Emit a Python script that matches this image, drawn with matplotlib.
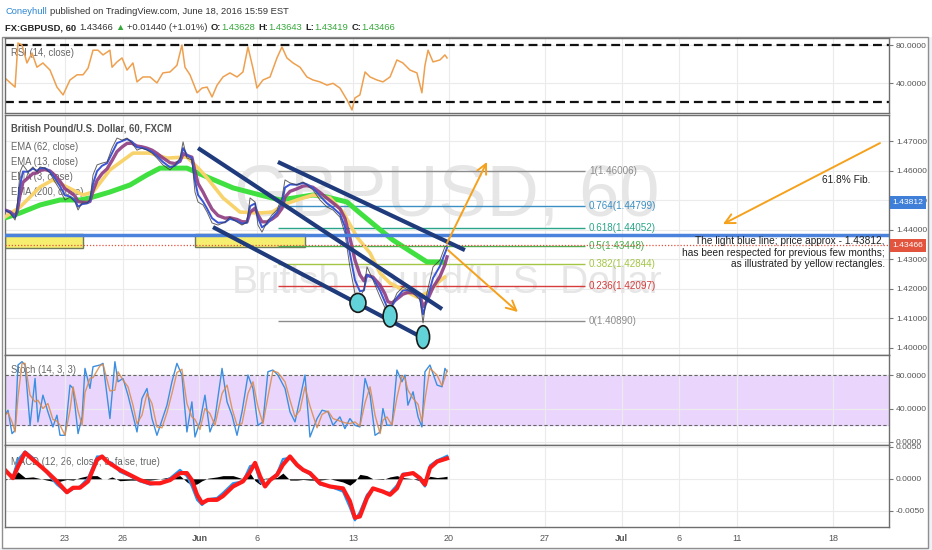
import matplotlib
matplotlib.use("Agg")
import matplotlib.pyplot as plt
import pandas as pd
from matplotlib import transforms
from matplotlib.font_manager import findfont, FontProperties
from matplotlib.patches import Rectangle, Ellipse

# ---- data (x in trading days, 0 = Mon 23 May 2016) ----
tick_days = [0, 3, 7, 10, 15, 20, 25, 29, 32, 35, 40]
tick_labels = ["23", "26", "Jun", "6", "13", "20", "27", "Jul", "6", "11", "18"]

price_days = [-3.13, -2.86, -2.60, -2.50, -2.34, -2.19, -1.93, -1.67, -1.46, -1.30,
              -1.04, -0.78, -0.52, -0.26, 0.00, 0.26, 0.52, 0.68, 0.89, 1.15,
              1.30, 1.46, 1.67, 1.93, 2.19, 2.45, 2.71, 2.97, 3.23, 3.49,
              3.75, 4.01, 4.27, 4.53, 4.79, 5.10, 5.47, 5.73, 5.99, 6.15,
              6.35, 6.61, 6.77, 6.93, 7.19, 7.40, 7.66, 7.97, 8.33, 8.59,
              8.96, 9.22, 9.48, 9.64, 9.90, 10.05, 10.26, 10.52, 10.78, 11.04,
              11.30, 11.46, 11.72, 12.08, 12.40, 12.60, 12.92, 13.28, 13.65, 13.96,
              14.32, 14.58, 14.84, 15.10, 15.36, 15.57, 15.73, 16.04, 16.41, 16.67,
              16.82, 17.03, 17.29, 17.60, 17.86, 18.13, 18.49, 18.65, 18.85, 19.17,
              19.53, 19.79, 19.90]
price_close = [1.4467, 1.4457, 1.4433, 1.4474, 1.4596, 1.4620, 1.4596, 1.4613, 1.4596, 1.4613,
               1.4609, 1.4592, 1.4562, 1.4535, 1.4501, 1.4511, 1.4494, 1.4467, 1.4491, 1.4491,
               1.4501, 1.4586, 1.4620, 1.4626, 1.4630, 1.4677, 1.4711, 1.4704, 1.4711, 1.4694,
               1.4670, 1.4677, 1.4670, 1.4660, 1.4643, 1.4620, 1.4603, 1.4620, 1.4643, 1.4698,
               1.4643, 1.4637, 1.4528, 1.4494, 1.4484, 1.4460, 1.4423, 1.4416, 1.4426, 1.4443,
               1.4426, 1.4416, 1.4426, 1.4508, 1.4494, 1.4416, 1.4392, 1.4426, 1.4450, 1.4467,
               1.4508, 1.4569, 1.4559, 1.4552, 1.4562, 1.4552, 1.4535, 1.4501, 1.4477, 1.4467,
               1.4443, 1.4389, 1.4274, 1.4185, 1.4172, 1.4196, 1.4274, 1.4230, 1.4172, 1.4135,
               1.4118, 1.4145, 1.4185, 1.4206, 1.4196, 1.4185, 1.4162, 1.4084, 1.4185, 1.4274,
               1.4297, 1.4342, 1.4348]

ema62_days = [-3.13, -2.34, -1.30, -0.63, 0.10, 0.94, 1.46, 2.34, 3.54, 4.43, 5.31, 6.35,
              7.03, 7.40, 8.23, 9.11, 10.16, 10.83, 11.35, 12.08, 12.92, 13.80, 14.48,
              15.21, 15.89, 16.41, 16.93, 17.60, 18.33, 18.85, 19.38, 19.79]
ema62 = [1.4443, 1.4477, 1.4545, 1.4569, 1.4545, 1.4518, 1.4528, 1.4603, 1.4660, 1.4660,
         1.4643, 1.4647, 1.4603, 1.4576, 1.4508, 1.4460, 1.4457, 1.4460, 1.4484, 1.4501,
         1.4518, 1.4508, 1.4460, 1.4375, 1.4321, 1.4253, 1.4219, 1.4196, 1.4172, 1.4185,
         1.4219, 1.4240]

ema200_days = [-3.13, -2.34, -1.30, -0.26, 0.78, 1.30, 2.34, 3.39, 4.27, 4.95, 6.35, 7.40,
               8.75, 10.16, 11.20, 12.24, 12.92, 13.65, 14.69, 15.36, 16.25, 17.08, 18.13,
               18.85, 19.69]
ema200 = [1.4440, 1.4457, 1.4484, 1.4501, 1.4501, 1.4508, 1.4528, 1.4552, 1.4586, 1.4609,
          1.4609, 1.4579, 1.4542, 1.4518, 1.4501, 1.4511, 1.4518, 1.4511, 1.4494, 1.4457,
          1.4409, 1.4365, 1.4321, 1.4291, 1.4291]

rsi_days = [-3.13, -2.60, -2.45, -2.24, -1.98, -1.72, -1.46, -1.15, -0.78, -0.42,
            -0.10, 0.26, 0.63, 0.94, 1.20, 1.46, 1.72, 1.98, 2.34, 2.45,
            2.71, 2.97, 3.23, 3.54, 3.75, 4.06, 4.43, 4.79, 5.10, 5.47,
            5.83, 6.09, 6.25, 6.51, 6.88, 7.14, 7.40, 7.66, 7.92, 8.23,
            8.59, 8.96, 9.27, 9.53, 9.79, 10.00, 10.31, 10.68, 11.04, 11.30,
            11.56, 11.88, 12.24, 12.60, 12.92, 13.28, 13.65, 13.96, 14.32, 14.69,
            14.95, 15.10, 15.36, 15.63, 15.89, 16.25, 16.56, 16.93, 17.29, 17.60,
            17.97, 18.33, 18.59, 18.75, 18.91, 19.17, 19.53, 19.79, 19.90]
rsi = [45.6, 36, 82.6, 80.5, 61.5, 72, 57, 61.5, 54, 36,
       27.7, 43.5, 49, 49, 56, 75, 75, 70, 75, 57,
       62.6, 66.8, 54, 61.5, 41.5, 46.7, 46.7, 40.4, 51, 52,
       59, 80.5, 57, 49, 30, 35, 36, 25.6, 38, 46.7,
       51, 46.7, 52, 78.4, 56, 35, 43.5, 46.7, 66.8, 78.4,
       66.8, 61.5, 57, 46.7, 43.5, 41.5, 38, 40, 35, 22.4,
       11.8, 24.5, 27.7, 52, 46.7, 43.5, 41.5, 46.7, 64.7, 61.5,
       54, 51, 30, 59, 75, 62.6, 64.7, 70, 66.8]

stoch_days = [-3.13, -2.97, -2.76, -2.60, -2.45, -2.24, -2.08, -1.82, -1.56, -1.41,
              -1.15, -0.89, -0.63, -0.42, -0.26, 0.00, 0.26, 0.42, 0.68, 0.89,
              1.04, 1.30, 1.46, 1.82, 1.98, 2.34, 2.60, 2.76, 3.02, 3.28,
              3.54, 3.75, 4.01, 4.27, 4.53, 4.79, 5.05, 5.31, 5.57, 5.83,
              6.09, 6.35, 6.61, 6.77, 7.03, 7.29, 7.55, 7.81, 8.18, 8.44,
              8.70, 8.96, 9.22, 9.53, 9.79, 10.05, 10.31, 10.57, 10.83, 11.09,
              11.46, 11.72, 11.98, 12.24, 12.50, 12.76, 13.13, 13.39, 13.70, 13.96,
              14.32, 14.58, 14.84, 15.10, 15.36, 15.63, 15.89, 16.15, 16.41, 16.56,
              16.77, 17.03, 17.29, 17.55, 17.71, 17.86, 18.13, 18.39, 18.59, 18.75,
              19.01, 19.38, 19.64, 19.79, 19.90]
stoch_k = [32, 38, 10, 14, 92, 96, 92, 20, 76, 24,
           56, 36, 18, 32, 8, 8, 68, 64, 10, 30,
           88, 64, 90, 92, 94, 28, 96, 72, 76, 56,
           32, 12, 52, 64, 28, 8, 26, 44, 72, 94,
           80, 12, 48, 6, 24, 56, 12, 28, 88, 48,
           32, 8, 36, 80, 64, 20, 24, 84, 86, 80,
           64, 36, 24, 52, 80, 6, 28, 38, 36, 20,
           30, 16, 28, 20, 18, 76, 56, 8, 12, 40,
           20, 20, 86, 72, 80, 44, 60, 30, 18, 84,
           92, 68, 66, 88, 84]

macd_days = [-3.13, -2.71, -2.45, -2.08, -1.67, -0.94, -0.42, 0.10, 0.42, 0.78,
             1.20, 1.67, 1.93, 2.19, 2.45, 2.86, 3.39, 3.91, 4.43, 4.95,
             5.47, 5.99, 6.35, 6.61, 6.88, 7.14, 7.45, 7.92, 8.23, 8.75,
             9.27, 9.64, 9.90, 10.16, 10.42, 10.68, 11.04, 11.35, 11.72, 12.08,
             12.40, 12.76, 13.28, 13.80, 14.48, 14.84, 15.10, 15.36, 15.73, 16.04,
             16.56, 16.93, 17.29, 17.60, 18.13, 18.49, 18.75, 19.01, 19.38, 19.69,
             19.90]
macd_line = [0.0012, 0.0004, 0.0030, 0.0043, 0.0033, 0.0009, -0.0009, -0.0022, -0.0016, -0.0012,
             0.0001, 0.0035, 0.0035, 0.0027, 0.0025, 0.0011, 0.0004, -0.0004, -0.0009, -0.0007,
             0.0001, 0.0014, 0.0004, -0.0012, -0.0033, -0.0041, -0.0032, -0.0030, -0.0022, -0.0007,
             -0.0004, 0.0020, 0.0022, -0.0005, -0.0011, -0.0001, 0.0008, 0.0031, 0.0033, 0.0020,
             0.0013, 0.0007, -0.0009, -0.0012, -0.0020, -0.0045, -0.0065, -0.0052, -0.0025, -0.0015,
             -0.0021, -0.0022, -0.0010, 0.0008, 0.0009, -0.0002, -0.0012, 0.0021, 0.0029, 0.0033,
             0.0036]
macd_signal = [0.0014, 0.0001, 0.0019, 0.0041, 0.0030, 0.0011, -0.0004, -0.0021, -0.0014, -0.0014,
               -0.0004, 0.0030, 0.0035, 0.0027, 0.0022, 0.0014, 0.0006, -0.0002, -0.0007, -0.0007,
               -0.0002, 0.0009, 0.0009, -0.0002, -0.0025, -0.0038, -0.0033, -0.0033, -0.0027, -0.0012,
               -0.0004, 0.0011, 0.0025, 0.0004, -0.0012, -0.0002, 0.0006, 0.0022, 0.0035, 0.0022,
               0.0014, 0.0009, -0.0007, -0.0012, -0.0015, -0.0035, -0.0061, -0.0059, -0.0030, -0.0015,
               -0.0020, -0.0025, -0.0015, 0.0006, 0.0009, 0.0001, -0.0009, 0.0017, 0.0027, 0.0030,
               0.0032]

fib_ratios = ["1", "0.764", "0.618", "0.5", "0.382", "0.236", "0"]
fib_levels = [1.46006, 1.44799, 1.44052, 1.43448, 1.42844, 1.42097, 1.40890]
fib_colors = ["#8c8c8c", "#3b8fc2", "#2aa58a", "#4caf50", "#a3c644", "#d63c3c", "#8c8c8c"]

support_level = 1.43812
last_price = 1.43466

# ---- layout (pixel geometry of the screenshot) ----
W, H = 932, 550
L, R = 5, 889
X0, X1 = -3.125, 42.92


def has_font(name):
    try:
        findfont(FontProperties(family=name), fallback_to_default=False)
        return True
    except ValueError:
        return False


NARROW = has_font("Liberation Sans Narrow")
if NARROW:
    FONT = ["Liberation Sans Narrow", "Liberation Sans", "DejaVu Sans"]
    FS = 1.0
else:
    FONT = ["Liberation Sans", "DejaVu Sans"]
    FS = 0.86
plt.rcParams["font.family"] = FONT

fig = plt.figure(figsize=(W / 100, H / 100), dpi=100)
fig.patch.set_facecolor("white")

ax_bg = fig.add_axes([0, 0, 1, 1], zorder=-5)
ax_bg.set_axis_off()
ax_bg.set_xlim(0, 1)
ax_bg.set_ylim(0, 1)
ax_bg.add_patch(Rectangle((0, 0), 1, 2 / H, fc="#eef1f5", ec="none"))
ax_bg.add_patch(Rectangle((929 / W, 0), 3 / W, 1 - 37 / H, fc="#eef1f5", ec="none"))
ax_bg.add_patch(Rectangle((2 / W, 2 / H), 926 / W, (548 - 37) / H, fc="none", ec="#8f8f8f", lw=1))


def panel(top, bottom):
    ax = fig.add_axes([L / W, 1 - bottom / H, (R - L) / W, (bottom - top) / H])
    ax.set_xlim(X0, X1)
    ax.set_xticks(tick_days)
    ax.grid(True, color="#ebebeb", lw=0.8)
    ax.set_axisbelow(True)
    ax.yaxis.tick_right()
    ax.tick_params(axis="y", direction="out", length=3, width=0.8, color="#777",
                   labelsize=7.1 * FS, labelcolor="#555", pad=2)
    ax.tick_params(axis="x", length=0, labelbottom=False)
    for s in ax.spines.values():
        s.set_color("#6e6e6e")
        s.set_linewidth(1)
    return ax


ax_rsi = panel(38, 113)
ax_main = panel(115, 355)
ax_sto = panel(355, 445)
ax_macd = panel(445, 527)

# ---- header ----
def chain(pieces, x, y, size):
    prev = None
    for txt, color, weight, gap in pieces:
        if prev is None:
            prev = ax_bg.text(x, y, txt, color=color, fontweight=weight, fontsize=size,
                              va="baseline", ha="left")
        else:
            prev = ax_bg.annotate(txt, xy=(1, y), xycoords=(prev, ax_bg.transAxes),
                                  xytext=(gap, 0), textcoords="offset points",
                                  color=color, fontweight=weight, fontsize=size,
                                  va="baseline", ha="left")


green = "#35a83a"
chain([("Coneyhull", "#2b86d3", "normal", 0),
       ("published on TradingView.com, June 18, 2016 15:59 EST", "#333333", "normal", 2)],
      5 / W, 1 - 14 / H, 7.9 * FS)
chain([("FX:GBPUSD, 60", "#222222", "bold", 0),
       ("1.43466", "#333333", "normal", 2.5),
       ("\u25b2", green, "normal", 1.5),
       ("+0.01440 (+1.01%)", "#333333", "normal", 1.5),
       ("O:", "#222222", "bold", 2.5), ("1.43628", green, "normal", 0),
       ("H:", "#222222", "bold", 2.5), ("1.43643", green, "normal", 0),
       ("L:", "#222222", "bold", 2.5), ("1.43419", green, "normal", 0),
       ("C:", "#222222", "bold", 2.5), ("1.43466", green, "normal", 0)],
      5 / W, 1 - 30 / H, 7.9 * FS)

# ---- RSI ----
ax_rsi.set_ylim(8.6, 87.9)
ax_rsi.set_yticks([80, 40])
ax_rsi.set_yticklabels(["80.0000", "40.0000"])
for lvl in (80, 20):
    ax_rsi.axhline(lvl, color="#111111", lw=1.6, dashes=(4, 2.2))
ax_rsi.plot(rsi_days, rsi, color="#eea04e", lw=1.1)
ax_rsi.text(6 / (R - L), 0.80, "RSI (14, close)", transform=ax_rsi.transAxes,
            fontsize=8 * FS, color="#666666", va="center", zorder=0.5)

# ---- main price panel ----
ax_main.set_ylim(1.39752, 1.47892)
ax_main.set_yticks([1.40, 1.41, 1.42, 1.43, 1.44, 1.45, 1.46, 1.47])
ax_main.set_yticklabels([f"{v:.5f}" for v in ax_main.get_yticks()])

ax_main.text(0.5, 0.66, "GBPUSD, 60", transform=ax_main.transAxes, ha="center", va="center",
             fontsize=52, color="#e6e6e6", zorder=0.6, family=["Liberation Sans", "DejaVu Sans"])
ax_main.text(0.5, 0.30, "British Pound/U.S. Dollar", transform=ax_main.transAxes, ha="center",
             va="center", fontsize=28, color="#e6e6e6", zorder=0.6,
             family=["Liberation Sans", "DejaVu Sans"])

ax_main.add_patch(Rectangle((-3.13, 1.4338), 0.94 + 3.13, 1.4385 - 1.4338,
                            fc="#f5ee6f", ec="#6f7a58", lw=1, zorder=2))
ax_main.add_patch(Rectangle((6.77, 1.4341), 12.50 - 6.77, 1.4386 - 1.4341,
                            fc="#f5ee6f", ec="#6f7a58", lw=1, zorder=2))

for ratio, lvl, col in zip(fib_ratios, fib_levels, fib_colors):
    ax_main.hlines(lvl, 11.09, 27.08, color=col, lw=1, zorder=2.5)
    ax_main.text(27.29, lvl, f"{ratio}({lvl:.5f})", color=col, fontsize=8.3 * FS,
                 va="center", ha="left", zorder=3)

close = pd.Series(price_close)
ax_main.plot(ema200_days, ema200, color="#3fe03f", lw=3.6, zorder=3, solid_capstyle="round")
ax_main.plot(ema62_days, ema62, color="#f8d36c", lw=2.6, zorder=3.1, solid_capstyle="round")
ax_main.plot(price_days, close.ewm(span=4).mean(), color="#8e3b82", lw=2.4, alpha=0.9, zorder=3.2)
ax_main.plot(price_days, close.ewm(span=2).mean(), color="#3a55d6", lw=1.4, zorder=3.3)
ax_main.plot(price_days, price_close, color="#3d3d3d", lw=0.7, alpha=0.8, zorder=3.4)

ax_main.axhline(support_level, color="#4a82dc", lw=2.5, zorder=4)
ax_main.axhline(last_price, color="#e2533d", lw=0.9, ls=(0, (1, 1.5)), zorder=4)

navy = "#1f3b7c"
ax_main.plot([6.93, 19.64], [1.4677, 1.4131], color=navy, lw=3, zorder=5, solid_capstyle="butt")
ax_main.plot([7.71, 18.85], [1.4409, 1.4026], color=navy, lw=3, zorder=5, solid_capstyle="butt")
ax_main.plot([11.09, 20.83], [1.4630, 1.4331], color=navy, lw=3, zorder=5, solid_capstyle="butt")

for cx, cy, w, h in [(15.26, 1.4152, 0.83, 0.0064), (16.93, 1.4107, 0.72, 0.0073),
                     (18.65, 1.4036, 0.68, 0.0077)]:
    ax_main.add_patch(Ellipse((cx, cy), w, h, fc="#62d3d8", ec="#1a1a1a", lw=1.2, zorder=6))

orange = "#f5a11c"
for start, end in [((19.90, 1.4355), (21.98, 1.4630)),
                   ((19.95, 1.4331), (23.59, 1.4121)),
                   ((42.45, 1.4694), (34.27, 1.4419))]:
    ax_main.annotate("", xy=end, xytext=start, zorder=7,
                     arrowprops=dict(arrowstyle="->,head_length=0.7,head_width=0.35",
                                     color=orange, lw=1.4, shrinkA=0, shrinkB=0))

ax_main.text(40.68, 1.4569, "61.8% Fib.", fontsize=8.5 * FS, color="#222222",
             ha="center", va="center", zorder=7)
for yv, line in [(1.4362, "The light blue line; price approx - 1.43812,"),
                 (1.4321, "has been respected for previous few months;"),
                 (1.4284, "as illustrated by yellow rectangles.")]:
    ax_main.text(42.71, yv, line, fontsize=8.5 * FS, color="#222222", ha="right",
                 va="center", zorder=7)

ax_main.text(6 / (R - L), 0.942, "British Pound/U.S. Dollar, 60, FXCM", transform=ax_main.transAxes,
             fontsize=8 * FS, fontweight="bold", color="#505050", va="center", zorder=0.7)
for yf, lab in [(0.867, "EMA (62, close)"), (0.804, "EMA (13, close)"),
                (0.742, "EMA (3, close)"), (0.679, "EMA (200, close)")]:
    ax_main.text(6 / (R - L), yf, lab, transform=ax_main.transAxes, fontsize=8 * FS,
                 color="#666666", va="center", zorder=0.7)

# price-scale badges (the blue one sits where TradingView drew it, above its line)
ytr = transforms.blended_transform_factory(ax_main.transAxes, ax_main.transData)
ax_main.text(1.004, 1.4494, "1.43812", transform=ytr, color="white", fontsize=7.1 * FS,
             va="center", ha="left", clip_on=False, zorder=8,
             bbox=dict(boxstyle="square,pad=0.35", fc="#3f7fd8", ec="none"))
ax_main.text(1.004, last_price, "1.43466", transform=ytr, color="white", fontsize=7.1 * FS,
             va="center", ha="left", clip_on=False, zorder=8,
             bbox=dict(boxstyle="square,pad=0.35", fc="#e3543f", ec="none"))

# ---- Stochastic ----
ax_sto.set_ylim(-3.6, 104)
ax_sto.set_yticks([80, 40, 0])
ax_sto.set_yticklabels(["80.0000", "40.0000", "0.0000"])
ax_sto.axhspan(20, 80, color="#ead6fc", zorder=0.3)
for lvl in (80, 20):
    ax_sto.axhline(lvl, color="#666666", lw=0.8, dashes=(3, 2), zorder=1)
k = pd.Series(stoch_k)
ax_sto.plot(stoch_days, k, color="#3c8fe0", lw=1.0, zorder=2)
ax_sto.plot(stoch_days, k.rolling(2, min_periods=1).mean(), color="#d98a4a", lw=1.0,
            alpha=0.85, zorder=2.1)
ax_sto.text(6 / (R - L), 0.833, "Stoch (14, 3, 3)", transform=ax_sto.transAxes,
            fontsize=8 * FS, color="#666666", va="center", zorder=0.5)

# ---- MACD ----
ax_macd.set_ylim(-0.00755, 0.0053)
ax_macd.set_yticks([0.005, 0.0, -0.005])
ax_macd.set_yticklabels(["0.0050", "0.0000", "-0.0050"])
hist = pd.Series(macd_line) - pd.Series(macd_signal)
ax_macd.fill_between(macd_days, 0, hist, color="black", lw=0, zorder=1.5)
ax_macd.plot(macd_days, macd_line, color="#2196f3", lw=1.6, zorder=2)
ax_macd.plot(macd_days, macd_signal, color="#ff1a1a", lw=3, zorder=2.1, solid_joinstyle="round")
ax_macd.text(6 / (R - L), 0.79, "MACD (12, 26, close, 9, false, true)", transform=ax_macd.transAxes,
             fontsize=8 * FS, color="#666666", va="center", zorder=0.5)

ax_macd.tick_params(axis="x", labelbottom=True, labelsize=7.5 * FS, labelcolor="#555", pad=5)
ax_macd.set_xticklabels(tick_labels)
for lab in ax_macd.get_xticklabels():
    if lab.get_text() in ("Jun", "Jul"):
        lab.set_fontweight("bold")

fig.savefig("out.png", dpi=100)
